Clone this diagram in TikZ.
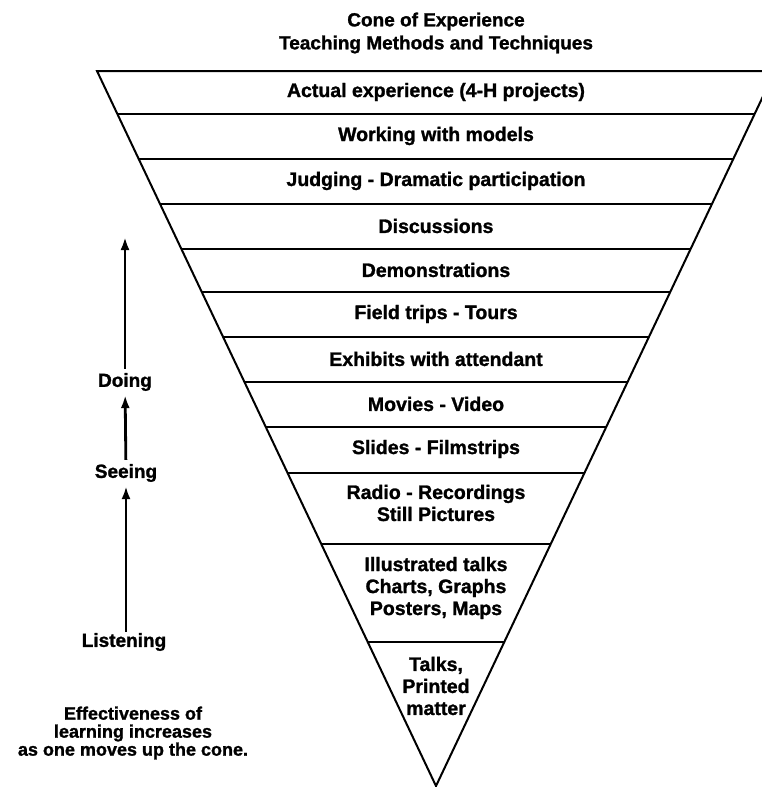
\documentclass[tikz,border=0pt]{standalone}
\usepackage{fontspec}
\setmainfont{Liberation Sans}[BoldFeatures={FakeBold=1.3}]
\usetikzlibrary{calc,arrows.meta}
\tikzset{
  conetext/.style={font=\bfseries\fontsize{19.5}{22}\selectfont, align=center, inner sep=1pt},
  sidetext/.style={font=\bfseries\fontsize{19}{16.5}\selectfont, align=center, inner sep=1pt},
  notetext/.style={font=\bfseries\fontsize{18}{18}\selectfont, align=center, inner sep=1pt},
  titletext/.style={font=\bfseries\fontsize{19}{23}\selectfont, align=center, inner sep=1pt},
  coneline/.style={line width=2pt, line join=miter},
  uparrow/.style={line width=2.8pt, -{Latex[length=13pt,width=9pt]}}
}
\begin{document}
\begin{tikzpicture}[x=1pt,y=-1pt]
\useasboundingbox (0,0) rectangle (762,787);
\clip (0,0) rectangle (762,787);
% cone
\coordinate (A) at (436,786);
\coordinate (TL) at (97,71);
\coordinate (TR) at (775,71);
\draw[coneline] (TL) -- (TR) -- (A) -- cycle;
\foreach \yy in {114,159,204,249,292,337,382,427,473,544,642}{
  \draw[coneline] ($(A)!{(786-\yy)/715}!(TL)$) -- ($(A)!{(786-\yy)/715}!(TR)$);
}
% title
\node[titletext] (title) at (436,33) {Cone of Experience\\Teaching Methods and Techniques};
% rows
\node[conetext] (r1) at (436,92) {Actual experience (4-H projects)};
\node[conetext] (r2) at (436,136) {Working with models};
\node[conetext] (r3) at (436,181) {Judging - Dramatic participation};
\node[conetext] (r4) at (436,226) {Discussions};
\node[conetext] (r5) at (436,270) {Demonstrations};
\node[conetext] (r6) at (436,314) {Field trips - Tours};
\node[conetext] (r7) at (436,359) {Exhibits with attendant};
\node[conetext] (r8) at (436,404) {Movies - Video};
\node[conetext] (r9) at (436,449) {Slides - Filmstrips};
\node[conetext] (r10) at (436,503) {Radio - Recordings\\Still Pictures};
\node[conetext] (r11) at (436,588) {Illustrated talks\\Charts, Graphs\\Posters, Maps};
\node[conetext] (r12) at (436,686) {Talks,\\Printed\\matter};
% side
\coordinate (top) at (125,237);
\node[sidetext] (doing) at (125,382) {Doing};
\node[sidetext] (seeing) at (126,473) {Seeing};
\node[sidetext] (listening) at (124,642) {Listening};
\draw[uparrow, shorten <=3pt] (doing) -- (top);
\draw[uparrow, shorten <=3pt, shorten >=3pt] (seeing) -- (doing);
\draw[uparrow, shorten <=0pt, shorten >=3pt] (listening.north -| seeing) -- (seeing);
\node[notetext] (effect) at (133,733) {Effectiveness of\\learning increases\\as one moves up the cone.};
\end{tikzpicture}
\end{document}
